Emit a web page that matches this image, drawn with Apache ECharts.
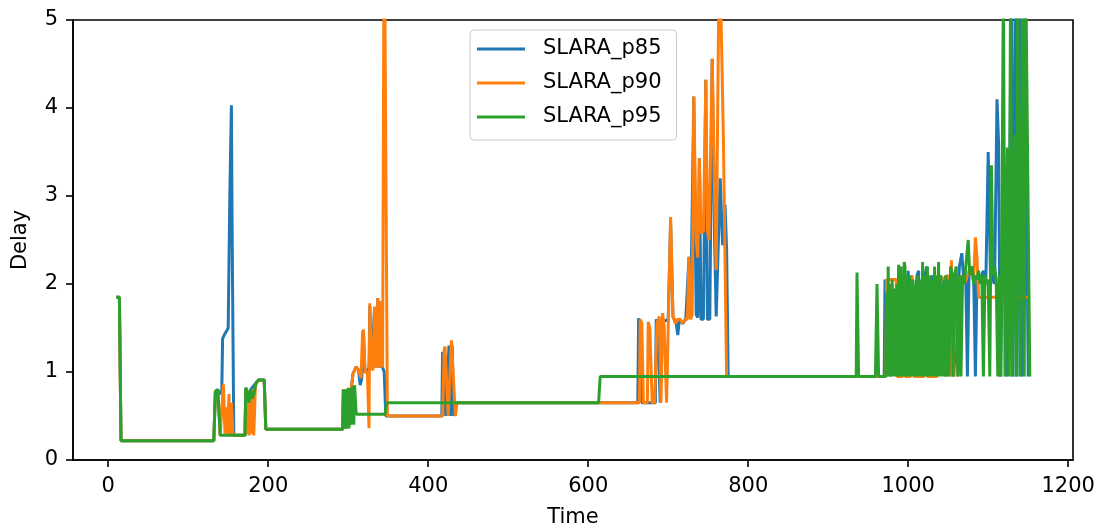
<!DOCTYPE html>
<html>
<head>
<meta charset="utf-8">
<script src="https://cdn.jsdelivr.net/npm/echarts@6/dist/echarts.min.js"></script>
<style>
html,body{margin:0;padding:0;background:#fff;}
#chart{width:1102px;height:529px;}
</style>
</head>
<body>
<div id="chart"></div>
<script>
// ---- data: [time, delay] ----
const seriesNames = ['SLARA_p85', 'SLARA_p90', 'SLARA_p95'];
const xTicks = [0, 200, 400, 600, 800, 1000, 1200];
const yTicks = [0, 1, 2, 3, 4, 5];

const p85 = [
  [10,1.85],[14,1.85],[16,0.22],[132,0.22],[134,0.78],[137,0.8],[139,0.75],[142,0.78],[143,1.38],[145,1.42],[147,1.45],[150,1.5],[152,3.0],[154,4.03],[155,2.5],[157,0.28],
  [171,0.28],[172,0.82],[176,0.65],[178,0.8],[185,0.88],[188,0.91],[195,0.91],[197,0.35],
  [293,0.35],[294,0.8],[295,0.36],[297,0.8],[298,0.36],[300,0.8],[302,0.4],[304,0.82],[306,0.98],[308,1.0],[310,1.06],[313,1.02],[315,0.85],[317,0.93],[319,1.48],[321,1.0],[324,1.0],[326,1.05],[327,1.75],[329,1.05],[333,1.74],[335,1.05],[337,1.84],[339,1.05],[341,1.8],[343,1.05],[345,1.0],[347,0.5],
  [417,0.5],[418,1.23],[420,1.25],[422,0.5],[424,0.5],[426,1.3],[428,0.5],[430,1.3],[432,0.5],[436,0.65],
  [662,0.65],[663,1.61],[665,1.55],[667,0.65],[684,0.65],[685,1.6],[687,1.55],[690,0.65],[692,1.6],[696,1.58],[700,1.6],[703,2.7],[706,1.63],[710,1.55],[712,1.42],[714,1.6],[718,1.55],[722,1.6],[726,2.31],[728,1.6],[732,4.13],[735,1.65],[737,1.62],[739,3.43],[741,1.6],[744,1.6],[747,4.32],[749,1.6],[752,1.6],[755,4.56],[758,2.5],[760,1.63],[762,1.62],[765,3.2],[768,2.44],[771,2.9],[773,2.4],[775,0.95],
  [970,0.95],[971,2.05],[973,0.95],[976,2.0],[978,0.95],[990,2.1],[992,0.95],[1000,2.15],[1002,0.95],[1011,2.1],[1013,2.15],[1015,0.95],[1021,2.1],[1023,2.2],[1025,0.95],[1030,2.1],[1032,0.95],[1045,2.05],[1047,0.95],[1055,2.1],[1057,0.95],[1064,2.2],[1067,2.35],[1069,2.1],[1072,2.05],[1074,0.95],[1076,2.1],[1079,2.2],[1082,2.0],[1084,0.95],[1086,2.1],[1090,2.05],[1094,2.15],[1097,2.0],[1100,3.5],[1103,2.0],[1106,2.1],[1108,2.0],[1111,4.1],[1113,3.6],[1115,0.95],[1118,2.1],[1121,2.25],[1123,0.95],[1126,2.2],[1129,5.5],[1131,0.95],[1134,5.5],[1136,0.95],[1139,5.5],[1142,0.95],[1146,5.5],[1150,0.95]
];

const p90 = [
  [10,1.85],[14,1.85],[16,0.22],[132,0.22],[134,0.78],[137,0.8],[140,0.28],[142,0.28],[144,0.86],[146,0.3],[148,0.6],[149,0.28],[151,0.75],[152,0.28],[154,0.65],[156,0.28],
  [171,0.28],[172,0.8],[173,0.3],[175,0.75],[176,0.28],[178,0.7],[179,0.3],[181,0.8],[182,0.28],[184,0.85],[186,0.88],[188,0.91],[195,0.91],[197,0.35],
  [293,0.35],[294,0.8],[295,0.36],[297,0.8],[298,0.36],[300,0.8],[302,0.4],[304,0.82],[306,0.98],[308,1.0],[310,1.06],[313,1.02],[316,0.93],[318,1.45],[319,1.48],[321,1.0],[324,1.0],[326,0.36],[327,1.78],[329,1.05],[331,1.02],[333,1.74],[335,1.05],[337,1.84],[339,1.05],[341,1.8],[343,1.05],[345,6.5],[349,0.5],
  [418,0.5],[420,1.25],[421,1.29],[423,1.3],[425,0.5],[427,0.5],[429,1.36],[431,1.36],[434,0.5],[436,0.65],
  [664,0.65],[665,1.6],[667,1.55],[669,0.65],[674,0.65],[675,1.57],[677,1.5],[680,0.65],[683,0.65],[686,1.55],[689,1.63],[691,0.65],[693,1.67],[695,1.5],[698,0.65],[703,2.76],[706,1.63],[709,1.55],[712,1.6],[715,1.6],[718,1.55],[721,1.6],[724,1.6],[726,2.31],[728,1.6],[730,1.65],[732,4.13],[735,2.5],[737,2.3],[739,3.43],[741,2.58],[744,2.6],[747,4.32],[749,2.6],[751,2.5],[755,4.56],[758,3.0],[760,2.16],[764,6.0],[769,3.65],[773,0.95],
  [972,0.95],[973,2.05],[985,2.05],[986,0.95],[993,0.95],[994,2.1],[996,0.95],[1003,0.95],[1005,2.1],[1007,0.95],[1020,0.95],[1022,2.05],[1024,0.95],[1036,0.95],[1038,2.1],[1040,2.1],[1042,2.05],[1050,2.1],[1052,0.95],[1054,2.27],[1056,0.95],[1060,2.1],[1062,0.95],[1066,2.1],[1070,2.0],[1074,2.1],[1078,2.2],[1082,2.1],[1084,2.53],[1086,2.3],[1088,1.85],[1152,1.85]
];

const p95 = [
  [10,1.85],[14,1.85],[16,0.22],[132,0.22],[134,0.78],[137,0.8],[140,0.28],[171,0.28],[172,0.82],[174,0.78],[176,0.65],[178,0.8],[180,0.7],[182,0.75],[185,0.88],[188,0.91],[195,0.91],[197,0.35],
  [293,0.35],[294,0.8],[295,0.36],[297,0.8],[298,0.36],[300,0.82],[301,0.36],[303,0.82],[304,0.4],[306,0.84],[307,0.4],[308,0.85],[310,0.52],[346,0.52],[348,0.65],[613,0.65],[615,0.95],
  [935,0.95],[936,2.13],[938,0.95],[959,0.95],[961,2.0],[963,0.95],
  [972,0.95],[973,1.9],[974,0.95],[975,2.2],[976,0.95],[977,2.0],[978,0.95],[980,2.05],[981,0.95],[983,1.95],[984,0.95],[986,2.0],[987,0.95],[988,2.22],[989,2.1],[990,0.95],[991,2.2],[992,0.95],[993,2.0],[994,0.95],[995,2.25],[996,2.2],[997,0.95],[998,2.1],[999,0.95],[1000,2.0],[1001,0.95],[1002,2.1],[1003,0.95],[1004,1.95],[1005,0.95],[1006,2.05],[1007,0.95],[1008,2.0],[1009,0.95],[1010,1.95],[1011,0.95],[1012,2.1],[1013,0.95],[1014,2.0],[1015,0.95],[1016,2.05],[1017,0.95],[1018,2.25],[1019,0.95],[1020,2.0],[1021,0.95],[1022,2.1],[1023,0.95],[1024,2.2],[1025,0.95],[1026,2.0],[1027,0.95],[1028,2.1],[1029,0.95],[1030,2.05],[1031,0.95],[1033,2.2],[1034,0.95],[1035,2.1],[1036,0.95],[1038,2.25],[1039,0.95],[1041,2.1],[1042,0.95],[1044,2.0],[1045,0.95],[1047,2.1],[1048,0.95],[1050,2.05],[1051,0.95],[1053,2.2],[1055,2.1],[1056,0.95],[1058,2.1],[1060,2.2],[1062,0.95],[1064,2.1],[1066,0.95],
  [1068,2.1],[1070,2.0],[1073,2.3],[1075,2.5],[1077,2.1],[1080,2.2],[1082,2.0],[1084,2.1],[1086,2.05],[1088,2.15],[1090,2.0],[1092,2.1],[1094,0.95],[1096,2.1],[1098,2.0],[1100,2.05],[1102,0.95],[1104,3.35],[1106,2.1],[1108,2.2],[1110,2.05],[1112,0.95],[1114,2.1],[1116,0.95],[1119,5.5],[1121,0.95],[1124,3.55],[1126,0.95],[1128,5.5],[1130,0.95],[1133,3.7],[1135,0.95],[1137,5.5],[1140,0.95],[1143,5.5],[1145,0.95],[1147,5.5],[1149,5.5],[1152,0.95]
];

const colors = ['#1f77b4', '#ff7f0e', '#2ca02c'];
const FONT = 'DejaVu Sans';
const FS = 21;

const chart = echarts.init(document.getElementById('chart'), null, {renderer: 'canvas'});
const dataList = [p85, p90, p95];

chart.setOption({
  animation: false,
  backgroundColor: '#ffffff',
  grid: {left: 73, right: 29, top: 20, bottom: 69, show: true, borderColor: '#000', borderWidth: 1.6, backgroundColor: 'transparent', containLabel: false, outerBoundsMode: 'none'},
  legend: {
    orient: 'vertical',
    left: 470, top: 30,
    data: seriesNames,
    icon: 'rect',
    itemWidth: 48, itemHeight: 3, itemGap: 12,
    padding: [8, 15, 12, 7],
    backgroundColor: 'rgba(255,255,255,0.8)',
    borderColor: '#cccccc', borderWidth: 1, borderRadius: 4,
    textStyle: {fontFamily: FONT, fontSize: FS, color: '#000', lineHeight: 22, padding: [0, 0, 0, 13]}
  },
  xAxis: {
    type: 'value', min: -44, max: 1206,
    name: 'Time', nameLocation: 'middle', nameGap: 47,
    nameTextStyle: {fontFamily: FONT, fontSize: FS, color: '#000'},
    axisLine: {show: true, onZero: false, lineStyle: {color: '#000', width: 1.6}},
    axisTick: {show: true, length: 7, lineStyle: {color: '#000', width: 1.6}, customValues: xTicks},
    axisLabel: {fontFamily: FONT, fontSize: FS, color: '#000', margin: 16, customValues: xTicks, formatter: v => String(v)},
    splitLine: {show: false}
  },
  yAxis: {
    type: 'value', min: 0, max: 5, interval: 1,
    name: 'Delay', nameLocation: 'middle', nameGap: 42,
    nameTextStyle: {fontFamily: FONT, fontSize: FS, color: '#000'},
    axisLine: {show: true, onZero: false, lineStyle: {color: '#000', width: 1.6}},
    axisTick: {show: true, length: 7, lineStyle: {color: '#000', width: 1.6}, customValues: yTicks},
    axisLabel: {fontFamily: FONT, fontSize: FS, color: '#000', margin: 15, customValues: yTicks, formatter: v => String(v)},
    splitLine: {show: false}
  },
  series: seriesNames.map((n, i) => ({
    name: n,
    type: 'line',
    data: dataList[i],
    symbol: 'none',
    showSymbol: false,
    clip: true,
    color: colors[i],
    itemStyle: {color: colors[i]},
    lineStyle: {width: 3, color: colors[i]},
    z: 2 + i
  }))
});
</script>
</body>
</html>
